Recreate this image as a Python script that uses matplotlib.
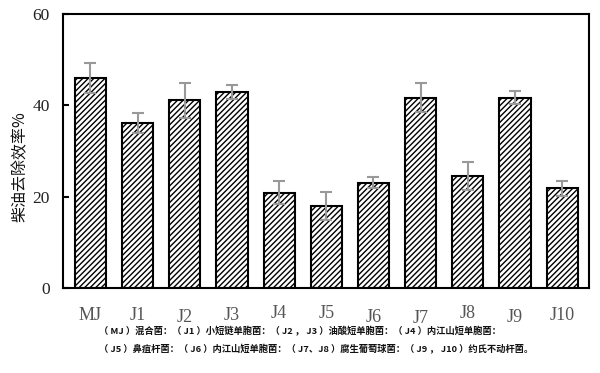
import matplotlib
matplotlib.use("Agg")
import matplotlib.pyplot as plt
import matplotlib.transforms as mtransforms
import numpy as np

# ---- data ----
categories = ["MJ", "J1", "J2", "J3", "J4", "J5", "J6", "J7", "J8", "J9", "J10"]
removal = [46.0, 36.1, 41.1, 42.9, 20.9, 18.0, 23.1, 41.7, 24.5, 41.7, 21.8]
errors = [3.3, 2.2, 3.8, 1.5, 2.5, 3.0, 1.3, 3.1, 3.0, 1.5, 1.6]
yticks = [0, 20, 40, 60]
ylabel = "柴油去除效率%"
caption1 = "（ MJ ）混合菌：（ J1 ）小短链单胞菌：（ J2 ， J3 ）油酸短单胞菌：（ J4 ）内江山短单胞菌："
caption2 = "（ J5 ）鼻疽杆菌：（ J6 ）内江山短单胞菌：（ J7、J8 ）腐生葡萄球菌：（ J9 ， J10 ）约氏不动杆菌。"

plt.rcParams['hatch.linewidth'] = 1.0
fig = plt.figure(figsize=(6.0, 3.73), dpi=100)
ax = fig.add_axes([63/600, 1-288/373, 526/600, 274/373])

x = np.arange(len(categories))
ax.bar(x, removal, width=0.66, color="white", edgecolor="black",
       linewidth=1.5, hatch="//////", zorder=2)
ax.errorbar(x, removal, yerr=errors, fmt="none", ecolor="#999999",
            elinewidth=1.5, capsize=4, capthick=1.5, zorder=3)

ax.set_xlim(-0.583, 10.57)
ax.set_ylim(0, 60)
ax.set_yticks(yticks)
ax.set_yticklabels([str(v) for v in yticks], fontfamily="Liberation Serif",
                   fontsize=12.5, color="#222222")
ax.tick_params(axis="y", direction="in", length=4, width=1.5, pad=9.5)
ax.set_xticks([])
for s in ax.spines.values():
    s.set_linewidth(1.5)
    s.set_color("black")

# category labels (slightly uneven baseline as in the original figure)
trans = mtransforms.blended_transform_factory(ax.transData, fig.transFigure)
label_dy = [0, 0, 2.3, 0, -1, -1, 2.7, 3.3, -1, 3, 0]
for lx, name, dy in zip(x, categories, label_dy):
    ax.text(lx, 1 - (315 + dy)/373, name, transform=trans, ha="center", va="center",
            fontfamily="Liberation Serif", fontsize=13, color="#555555")

fig.text(20/600, 1 - 167/373, ylabel, rotation=90, ha="center", va="center",
         fontfamily=["Noto Sans CJK SC", "DejaVu Sans"], fontweight="medium",
         fontsize=11.5, color="#111111")

fig.text(99/600, 1 - 331/373, caption1, ha="left", va="center",
         fontfamily=["Noto Sans CJK SC", "DejaVu Sans"], fontweight="heavy",
         fontsize=6.7, color="#111111")
fig.text(99/600, 1 - 349/373, caption2, ha="left", va="center",
         fontfamily=["Noto Sans CJK SC", "DejaVu Sans"], fontweight="heavy",
         fontsize=6.7, color="#111111")

fig.savefig("out.png", dpi=100)
